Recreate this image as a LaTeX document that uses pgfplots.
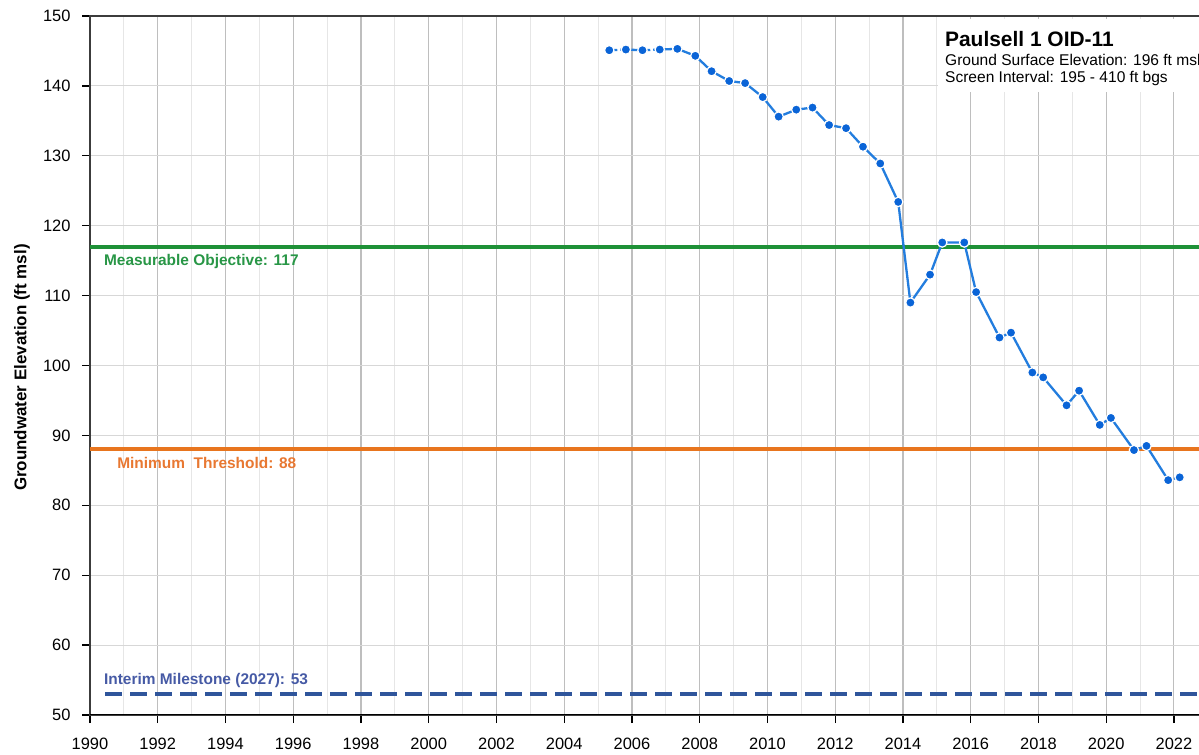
\documentclass[border=0pt]{standalone}
\usepackage{pgfplots}
\usepackage{pgfplotstable}
\pgfplotsset{compat=1.18}
\usepackage{fontspec}
\setmainfont{Liberation Sans}
\definecolor{dblue}{RGB}{10,100,215}
\definecolor{lblue}{RGB}{35,125,222}
\definecolor{mogreen}{RGB}{30,145,55}
\definecolor{motext}{RGB}{40,150,70}
\definecolor{mtorange}{RGB}{232,117,30}
\definecolor{mttext}{RGB}{232,120,50}
\definecolor{imnavy}{RGB}{47,85,155}
\definecolor{imtext}{RGB}{70,90,165}
\pgfplotstableread{
x y
2005.33 145.1
2005.82 145.2
2006.31 145.1
2006.82 145.2
2007.34 145.3
2007.87 144.3
2008.35 142.1
2008.87 140.7
2009.34 140.4
2009.86 138.4
2010.33 135.6
2010.85 136.6
2011.33 136.9
2011.82 134.4
2012.32 133.95
2012.82 131.3
2013.33 128.9
2013.86 123.4
2014.22 109.0
2014.80 113.0
2015.16 117.6
2015.81 117.6
2016.16 110.5
2016.85 104.0
2017.19 104.7
2017.82 99.0
2018.14 98.3
2018.83 94.3
2019.20 96.4
2019.81 91.5
2020.14 92.5
2020.82 87.9
2021.19 88.5
2021.83 83.6
2022.17 84.0
}\datatable
\pgfplotstableread{
x y
2005.33 145.1
2005.82 145.2
2006.31 145.1
2006.82 145.2
2007.34 145.3
}\dashA
\pgfplotstableread{
x y
2007.34 145.3
2007.87 144.3
2008.35 142.1
2008.87 140.7
2009.34 140.4
2009.86 138.4
2010.33 135.6
2010.85 136.6
2011.33 136.9
2011.82 134.4
2012.32 133.95
2012.82 131.3
2013.33 128.9
2013.86 123.4
2014.22 109.0
2014.80 113.0
2015.16 117.6
2015.81 117.6
2016.16 110.5
2016.85 104.0
2017.19 104.7
2017.82 99.0
2018.14 98.3
2018.83 94.3
2019.20 96.4
2019.81 91.5
2020.14 92.5
2020.82 87.9
2021.19 88.5
2021.83 83.6
}\solidB
\pgfplotstableread{
x y
2021.83 83.6
2022.17 84.0
}\dashC
\begin{document}
\begin{tikzpicture}
\begin{axis}[
  at={(0,0)}, anchor=south west,
  scale only axis,
  width=1111bp, height=699bp,
  xmin=1990, xmax=2022.8,
  ymin=50, ymax=150,
  xtick={1990,1992,...,2022},
  minor xtick={1991,1993,...,2021},
  ytick={50,60,...,150},
  xmajorgrids, xminorgrids, ymajorgrids,
  major x grid style={draw={rgb,255:red,190;green,190;blue,190}, line width=1.1bp},
  minor x grid style={draw={rgb,255:red,230;green,230;blue,230}, line width=1.1bp},
  major y grid style={draw={rgb,255:red,215;green,215;blue,215}, line width=1.1bp},
  tick align=outside,
  major tick length=8bp,
  minor tick length=0bp,
  tick style={black, line width=1.3bp},
  xtick pos=bottom, ytick pos=left,
  axis line style={draw={rgb,255:red,60;green,60;blue,60}, line width=1.2bp},
  tick label style={font=\fontsize{16.5}{18}\selectfont, /pgf/number format/assume math mode=true},
  x tick label style={/pgf/number format/1000 sep={}, yshift=-12bp},
  y tick label style={xshift=-8bp},
  ylabel={\textbf{Groundwater Elevation (ft msl)}},
  ylabel style={font=\fontsize{17}{19}\selectfont, at={(axis description cs:-0.0612,0.497)}, anchor=center},
  clip=true,
]
\addplot[mogreen, line width=4bp] coordinates {(1990,117) (2022.8,117)};
\addplot[mtorange, line width=4bp] coordinates {(1990,88) (2022.8,88)};
\addplot[imnavy, line width=3.8bp, dash pattern=on 17bp off 8bp] coordinates {(1990.45,53) (2022.8,53)};
\node[anchor=west, font=\bfseries\fontsize{15.5}{17}\selectfont, text=motext, inner sep=0pt] at (axis cs:1990.41,114.9) {Measurable Objective: 117};
\node[anchor=west, font=\bfseries\fontsize{15.5}{17}\selectfont, text=mttext, inner sep=0pt] at (axis cs:1990.8,86.0) {Minimum\ \ Threshold: 88};
\node[anchor=west, font=\bfseries\fontsize{15.5}{17}\selectfont, text=imtext, inner sep=0pt] at (axis cs:1990.41,55.0) {Interim Milestone (2027): 53};
\addplot[lblue, line width=2.3bp, dash pattern=on 8bp off 3bp] table[x=x,y=y] {\dashA};
\addplot[lblue, line width=2.3bp] table[x=x,y=y] {\solidB};
\addplot[lblue, line width=2.3bp, dash pattern=on 3bp off 3bp] table[x=x,y=y] {\dashC};
\addplot[only marks, mark=*, mark size=4.7bp, mark options={fill=dblue, draw=white, line width=1.2bp}] table[x=x,y=y] {\datatable};
\fill[white] (axis cs:2015.03,149.57) rectangle (axis cs:2022.8,139.11);
\node[anchor=base west, font=\bfseries\fontsize{21}{23}\selectfont, inner sep=0pt] at (axis cs:2015.24,145.7) {Paulsell 1 OID-11};
\node[anchor=base west, font=\fontsize{15.6}{17}\selectfont, inner sep=0pt] at (axis cs:2015.24,142.88) {Ground Surface Elevation: 196 ft msl};
\node[anchor=base west, font=\fontsize{15.6}{17}\selectfont, inner sep=0pt] at (axis cs:2015.24,140.5) {Screen Interval: 195 - 410 ft bgs};
\draw[black, line width=2.6bp] (rel axis cs:0,0) -- (rel axis cs:1,0);
\end{axis}
\pgfresetboundingbox
\path[use as bounding box] (-90bp,-40bp) rectangle (1109bp,715bp);
\end{tikzpicture}
\end{document}
